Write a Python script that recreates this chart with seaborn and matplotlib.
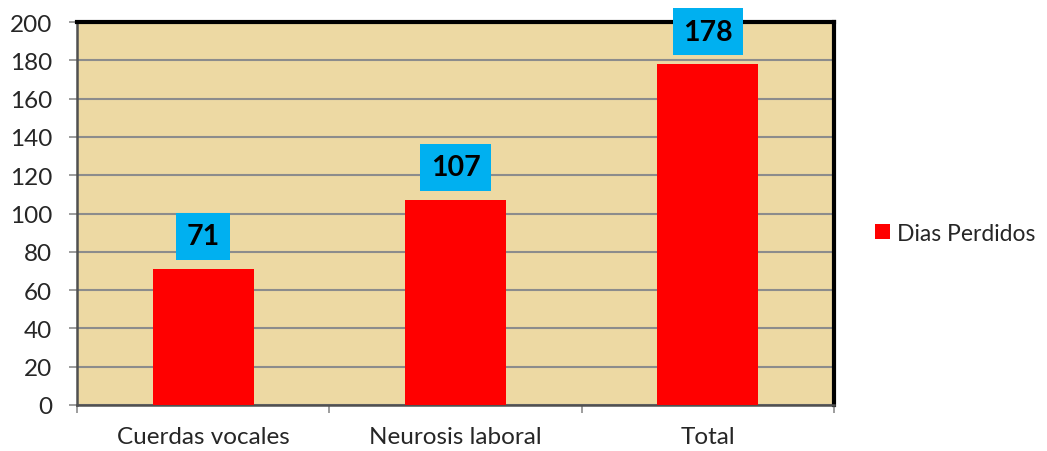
import matplotlib
matplotlib.use('Agg')
import matplotlib.pyplot as plt
import seaborn as sns
from matplotlib.ticker import FixedLocator

# Data
categories = ['Cuerdas vocales', 'Neurosis laboral', 'Total']
dias_perdidos = [71, 107, 178]
series_name = 'Dias Perdidos'
y_ticks = list(range(0, 201, 20))

sns.set_style('white')
plt.rcParams['font.family'] = ['Lato', 'DejaVu Sans']

fig = plt.figure(figsize=(10.47, 4.52), dpi=100)
ax = fig.add_axes([0.0735, 0.1018, 0.7231, 0.8472])
ax.set_facecolor('#EDD9A3')

sns.barplot(x=categories, y=dias_perdidos, color='#FF0000', width=0.4,
            saturation=1, label=series_name, ax=ax, zorder=3,
            edgecolor='none', linewidth=0)
if ax.get_legend() is not None:
    ax.get_legend().remove()

ax.set_ylim(0, 200)
ax.set_xlim(-0.5, 2.5)
ax.set_yticks(y_ticks)
ax.grid(axis='y', color='#8C8C8C', linewidth=1.5, zorder=1)
ax.set_axisbelow(True)

# ticks
ax.tick_params(axis='y', length=6, width=1.2, color='#8C8C8C', pad=12, labelsize=17.5, direction='out', left=True)
ax.tick_params(axis='x', which='major', length=0, pad=15, labelsize=17.5)
ax.xaxis.set_minor_locator(FixedLocator([-0.5, 0.5, 1.5, 2.5]))
ax.tick_params(axis='x', which='minor', length=6, width=1.2, color='#8C8C8C', direction='out', bottom=True)
ax.set_xlabel('')
ax.set_ylabel('')

# spines
for s in ['left', 'bottom']:
    ax.spines[s].set_color('#505050')
    ax.spines[s].set_linewidth(1.8)
for s in ['top', 'right']:
    ax.spines[s].set_color('black')
    ax.spines[s].set_linewidth(3)

# value labels in blue boxes
for i, v in enumerate(dias_perdidos):
    ax.annotate(str(v), xy=(i, v), xytext=(0, 23.5), textcoords='offset points',
                ha='center', va='center', fontsize=20.5, fontweight='bold', color='black',
                bbox=dict(boxstyle='square,pad=0.36', facecolor='#00B0F0', edgecolor='none'),
                zorder=5, annotation_clip=False)

handles, labels = ax.get_legend_handles_labels()
fig.legend(handles, labels, loc='center left', bbox_to_anchor=(0.836, 0.482), frameon=False,
           borderpad=0, borderaxespad=0,
           fontsize=16.5, handlelength=0.65, handleheight=0.65, handletextpad=0.3)

fig.savefig('out.png', dpi=100)
